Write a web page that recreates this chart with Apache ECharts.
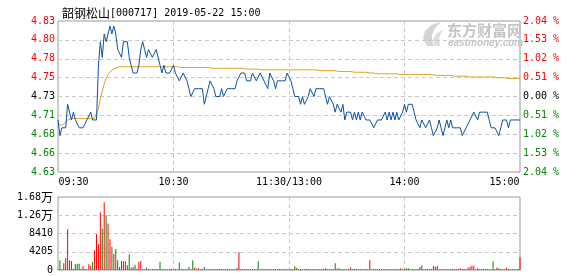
<!DOCTYPE html>
<html>
<head>
<meta charset="utf-8">
<script src="https://cdn.jsdelivr.net/npm/echarts@6/dist/echarts.min.js"></script>
<style>html,body{margin:0;padding:0;background:#fff;}#c{width:578px;height:276px;}</style>
</head>
<body>
<div id="c"></div>
<script>
const prevClose = 4.73;
const timeLabels = ['09:30','10:30','11:30/13:00','14:00','15:00'];
const priceLabels = ['4.63','4.66','4.68','4.71','4.73','4.75','4.78','4.80','4.83'];
const pctLabels = ['2.04 %','1.53 %','1.02 %','0.51 %','0.00 %','0.51 %','1.02 %','1.53 %','2.04 %'];
const volLabels = ['0','4205','8410','1.26万','1.68万'];
const prices = [
4.70,4.68,4.69,4.69,4.69,4.72,4.72,4.70,4.71,4.70,
4.70,4.69,4.69,4.69,4.69,4.70,4.70,4.71,4.70,4.70,
4.70,4.77,4.80,4.78,4.81,4.80,4.80,4.82,4.81,4.82,
4.81,4.79,4.79,4.78,4.80,4.80,4.80,4.78,4.77,4.76,
4.76,4.76,4.77,4.79,4.80,4.79,4.78,4.79,4.79,4.78,
4.78,4.79,4.79,4.77,4.76,4.77,4.76,4.76,4.76,4.76,
4.77,4.76,4.76,4.75,4.75,4.76,4.76,4.75,4.74,4.73,
4.73,4.74,4.74,4.74,4.74,4.74,4.72,4.73,4.74,4.75,
4.75,4.74,4.73,4.73,4.73,4.74,4.73,4.73,4.74,4.74,
4.74,4.74,4.74,4.75,4.75,4.76,4.76,4.76,4.75,4.75,
4.75,4.76,4.76,4.75,4.75,4.76,4.76,4.75,4.75,4.74,
4.76,4.76,4.75,4.74,4.75,4.75,4.75,4.75,4.75,4.76,
4.76,4.75,4.74,4.73,4.73,4.73,4.72,4.73,4.72,4.72,
4.73,4.74,4.74,4.73,4.74,4.74,4.74,4.74,4.74,4.73,
4.72,4.73,4.73,4.72,4.71,4.72,4.72,4.71,4.72,4.70,
4.71,4.71,4.71,4.70,4.71,4.70,4.71,4.70,4.71,4.71,
4.70,4.70,4.70,4.70,4.69,4.69,4.70,4.70,4.70,4.70,
4.71,4.70,4.71,4.70,4.71,4.70,4.71,4.70,4.70,4.71,
4.72,4.71,4.72,4.72,4.72,4.71,4.70,4.70,4.69,4.70,
4.70,4.69,4.69,4.70,4.69,4.68,4.68,4.69,4.70,4.69,
4.68,4.69,4.70,4.69,4.70,4.69,4.69,4.69,4.69,4.69,
4.68,4.68,4.69,4.69,4.70,4.70,4.71,4.71,4.70,4.71,
4.71,4.71,4.71,4.71,4.70,4.69,4.69,4.69,4.69,4.68,
4.69,4.70,4.70,4.70,4.69,4.70,4.70,4.70,4.70,4.70,
4.70
];
const avgPrices = [
4.695,4.693,4.693,4.694,4.697,4.700,4.702,4.702,4.702,4.702,
4.702,4.702,4.702,4.702,4.702,4.702,4.702,4.702,4.702,4.702,
4.704,4.714,4.727,4.737,4.746,4.753,4.758,4.761,4.764,4.765,
4.766,4.767,4.768,4.768,4.768,4.768,4.768,4.768,4.768,4.768,
4.768,4.768,4.768,4.768,4.768,4.768,4.768,4.768,4.768,4.768,
4.768,4.768,4.768,4.768,4.768,4.768,4.768,4.768,4.768,4.768,
4.768,4.768,4.768,4.767,4.767,4.767,4.767,4.767,4.767,4.767,
4.767,4.767,4.767,4.767,4.767,4.767,4.767,4.767,4.767,4.766,
4.766,4.766,4.766,4.766,4.766,4.766,4.766,4.766,4.766,4.766,
4.766,4.766,4.766,4.766,4.766,4.766,4.766,4.765,4.765,4.765,
4.765,4.765,4.765,4.765,4.765,4.764,4.764,4.764,4.764,4.764,
4.764,4.764,4.764,4.764,4.764,4.764,4.764,4.764,4.764,4.764,
4.764,4.764,4.764,4.764,4.764,4.764,4.764,4.764,4.764,4.764,
4.764,4.764,4.764,4.764,4.764,4.763,4.763,4.763,4.763,4.763,
4.763,4.763,4.763,4.763,4.763,4.763,4.762,4.762,4.762,4.762,
4.762,4.762,4.762,4.761,4.761,4.761,4.761,4.761,4.761,4.761,
4.761,4.761,4.760,4.760,4.760,4.760,4.759,4.759,4.759,4.759,
4.759,4.759,4.759,4.759,4.759,4.759,4.759,4.759,4.758,4.758,
4.758,4.758,4.758,4.758,4.758,4.758,4.758,4.758,4.758,4.758,
4.758,4.758,4.758,4.758,4.758,4.757,4.757,4.757,4.757,4.757,
4.757,4.757,4.757,4.757,4.757,4.757,4.756,4.756,4.756,4.756,
4.756,4.756,4.756,4.756,4.755,4.755,4.755,4.755,4.755,4.755,
4.755,4.755,4.755,4.755,4.755,4.755,4.755,4.754,4.754,4.754,
4.754,4.754,4.754,4.754,4.753,4.753,4.753,4.753,4.753,4.753,
4.753
];
const volumes = [
150,2230,150,1540,2690,9380,2230,2080,300,1300,
1460,1460,300,850,230,150,1300,1000,1850,4540,
8230,5920,13300,9540,15600,12600,10700,7080,5380,3770,
4840,2230,700,2150,2000,2000,1080,3610,540,700,
1230,300,1920,2000,230,150,600,230,150,230,
150,230,150,1920,150,230,150,150,230,150,
150,230,150,1700,150,230,150,150,700,150,
2230,600,300,380,150,230,700,150,230,150,
230,150,150,230,150,230,150,150,230,150,
150,230,150,540,4080,150,230,150,230,150,
150,230,150,150,2000,150,230,150,150,230,
150,150,230,150,150,230,150,150,230,150,
150,230,150,850,460,150,230,150,150,230,
150,150,230,150,150,230,150,150,230,380,
150,230,150,150,1540,300,380,150,230,150,
150,230,600,150,230,150,150,230,150,150,
230,150,2230,150,230,150,150,230,150,150,
230,150,150,230,150,150,230,150,380,150,
230,380,380,150,230,150,150,230,700,1080,
150,230,150,150,230,1000,770,1000,150,230,
150,150,230,150,150,230,150,150,230,380,
150,230,150,540,770,1000,1000,150,380,150,
230,150,150,230,150,150,2000,150,600,380,
150,230,150,540,230,150,230,150,150,230,
2920
];
const downBars = [1,7,9,10,11,12,18,23,25,28,30,31,33,37,38,40,45,46,53,63,68,70,76,104,123,139,144,146,181,182,188,189,195,226,229];

const RED = '#ff0000', GREEN = '#008800', BLACK = '#000000';
const MONO = 'DejaVu Sans Mono';
const CJK = 'Noto Sans CJK SC';
const gridLine = {color:'#c8c8c8', type:[4,3], width:1};
const downSet = new Set(downBars);
const toPct = p => (p / prevClose - 1) * 100;
const pIdx = v => Math.round((v + 2.04) / 0.51);
const labelColor = v => Math.abs(v) < 1e-6 ? BLACK : (v > 0 ? RED : GREEN);

const chart = echarts.init(document.getElementById('c'), null, {renderer:'canvas'});
chart.setOption({
  animation: false,
  title: {
    text: '{a|韶钢松山}{b|[000717] 2019-05-22 15:00}',
    left: 57, top: 2,
    textStyle: {fontWeight:'normal', rich: {
      a: {fontFamily: CJK, fontSize: 12, color: '#000', fontWeight:'normal'},
      b: {fontFamily: MONO, fontSize: 10, color: '#000', fontWeight:'normal'}
    }}
  },
  graphic: [
    {type:'polygon', z:0, silent:true, shape:{points:[[427,46],[423,38],[425,31],[431,25],[441,22],[435,28],[432,35],[432,41],[434,46]]}, style:{fill:'#d4d4d4'}},
    {type:'polygon', z:0, silent:true, shape:{points:[[435,46],[433,40],[436,34],[444,29],[440,35],[439,40],[440,46]]}, style:{fill:'#dcdcdc'}},
    {type:'text', z:0, silent:true, left:447, top:23, style:{text:'东方财富网', font:'bold 15px "Noto Sans CJK SC"', fill:'#c4c4c4'}},
    {type:'text', z:0, silent:true, left:448, top:38, style:{text:'eastmoney.com', font:'italic bold 10px "Liberation Sans"', fill:'#c4c4c4'}}
  ],
  grid: [
    {left:58, top:21, width:462, height:151, show:true, borderColor:'#999', borderWidth:1, backgroundColor:'transparent'},
    {left:58, top:197, width:462, height:73, show:true, borderColor:'#999', borderWidth:1, backgroundColor:'transparent'}
  ],
  xAxis: [
    {gridIndex:0, type:'value', min:0, max:240, interval:60,
     axisLine:{show:false}, axisTick:{show:false},
     splitLine:{show:true, showMinLine:false, showMaxLine:false, lineStyle:gridLine},
     axisLabel:{show:true, margin:5, fontFamily:MONO, fontSize:10, color:'#000',
       formatter: function(v){
         const i = Math.round(v/60); const t = timeLabels[i];
         if (i === 0) return '{l|' + t + '}';
         if (i === timeLabels.length - 1) return '{r|' + t + '}';
         return t;
       },
       rich:{
         l:{fontFamily:MONO, fontSize:10, color:'#000', padding:[0,0,0,31]},
         r:{fontFamily:MONO, fontSize:10, color:'#000', padding:[0,31,0,0]}
       }}},
    {gridIndex:1, type:'value', min:0, max:240, interval:60,
     axisLine:{show:false}, axisTick:{show:false}, axisLabel:{show:false},
     splitLine:{show:true, showMinLine:false, showMaxLine:false, lineStyle:gridLine}}
  ],
  yAxis: [
    {gridIndex:0, type:'value', position:'left', min:-2.04, max:2.04, interval:0.51,
     axisLine:{show:false}, axisTick:{show:false},
     splitLine:{show:true, showMinLine:false, showMaxLine:false, lineStyle:gridLine},
     axisLabel:{margin:3, fontFamily:MONO, fontSize:10,
       formatter: v => priceLabels[pIdx(v)],
       color: v => labelColor(v)}},
    {gridIndex:0, type:'value', position:'right', min:-2.04, max:2.04, interval:0.51,
     axisLine:{show:false}, axisTick:{show:false}, splitLine:{show:false},
     axisLabel:{margin:3, fontFamily:MONO, fontSize:10,
       formatter: v => pctLabels[pIdx(v)],
       color: v => labelColor(v)}},
    {gridIndex:1, type:'value', position:'left', min:0, max:16820, interval:4205,
     axisLine:{show:false}, axisTick:{show:false},
     splitLine:{show:true, showMinLine:false, showMaxLine:false, lineStyle:gridLine},
     axisLabel:{margin:5, fontFamily:MONO, fontSize:10, color:'#000',
       formatter: function(v){
         const s = volLabels[Math.round(v/4205)];
         if (s.indexOf('万') >= 0) return '{n|' + s.replace('万','') + '}{w|万}';
         return '{n|' + s + '}';
       },
       rich:{
         n:{fontFamily:MONO, fontSize:10, color:'#000'},
         w:{fontFamily:CJK, fontSize:12, color:'#000'}
       }}}
  ],
  series: [
    {type:'line', xAxisIndex:0, yAxisIndex:0, name:'avg', showSymbol:false, symbol:'none', silent:true, z:2,
     lineStyle:{color:'#e0a020', width:1},
     data: avgPrices.map((p,i) => [i, toPct(p)])},
    {type:'line', xAxisIndex:0, yAxisIndex:0, name:'price', showSymbol:false, symbol:'none', silent:true, z:3,
     lineStyle:{color:'#0b52a3', width:1},
     data: prices.map((p,i) => [i, toPct(p)])},
    {type:'bar', xAxisIndex:1, yAxisIndex:2, barWidth:1, silent:true,
     data: volumes.map((v,i) => ({value:[i, v], itemStyle:{color: downSet.has(i) ? GREEN : RED}}))}
  ]
});
</script>
</body>
</html>
